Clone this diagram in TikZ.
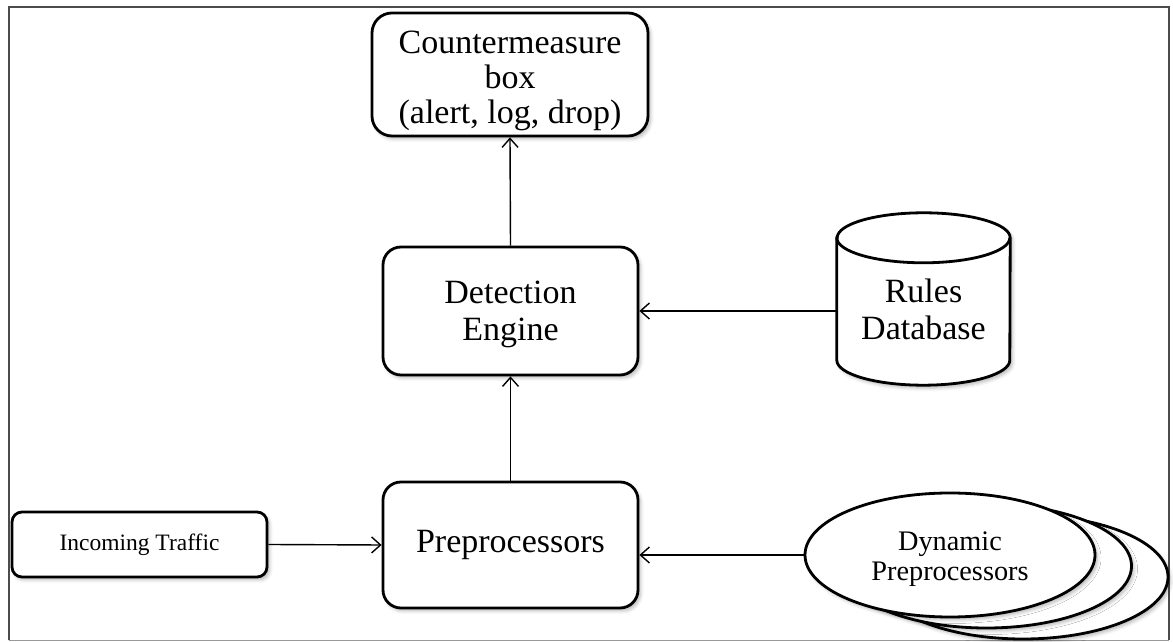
\documentclass[tikz,border=0pt]{standalone}
\usepackage{fontspec}
\setmainfont{Liberation Serif}
\usetikzlibrary{arrows.meta,shapes.geometric,shadows.blur}

\begin{document}
\begin{tikzpicture}[x=1pt,y=1pt,
  softshadow/.style={blur shadow={shadow xshift=2.5pt, shadow yshift=-3pt, shadow opacity=28, shadow blur radius=3.5pt}},
  box/.style={draw=black, line width=2.8pt, fill=white, rounded corners=18pt,
    align=center, inner sep=0pt, softshadow},
  big/.style={font=\fontsize{34}{37}\selectfont},
  outline/.style={draw=black, line width=2.8pt, fill=white},
  flow/.style={line width=1.4pt, draw=black,
    -{Straight Barb[length=9pt,width=16pt,line width=1.4pt]}},
]
\useasboundingbox (0,0) rectangle (1173,642);

% outer frame
\draw[line width=2pt, draw=black!70] (8.5,1.5) -- (8.5,634.5) -- (1168.5,634.5) -- (1168.5,1.5);
\draw[line width=1.5pt, draw=black!40] (8.5,1.5) -- (1168.5,1.5);

% main processing boxes
\node[box, minimum width=276pt, minimum height=123pt, rounded corners=20pt,
  label={[yshift=-6pt, align=center, font=\fontsize{34}{35}\selectfont]center:Countermeasure\\box\\(alert, log, drop)}]
  (cm) at (510,567.5) {};
\node[box, minimum width=255pt, minimum height=128pt,
  label={[yshift=-3pt, align=center, big]center:Detection\\Engine}] (det) at (510.5,331) {};
\node[box, big, minimum width=255pt, minimum height=126pt] (pre) at (510.5,97) {Preprocessors};
\node[box, rounded corners=10pt, font=\fontsize{23.5}{26}\selectfont,
  minimum width=255pt, minimum height=65pt] (inc) at (139.5,97.5) {Incoming Traffic};

% rules database cylinder
\node[minimum width=173pt, minimum height=172pt, inner sep=0pt] (rules) at (923.5,343) {};
\draw[outline, softshadow]
  ([yshift=-25pt]rules.north west) -- ([yshift=25pt]rules.south west)
  arc[start angle=180, end angle=360, x radius=86.5pt, y radius=25pt]
  -- ([yshift=-25pt]rules.north east)
  arc[start angle=0, end angle=180, x radius=86.5pt, y radius=25pt] -- cycle;
\draw[draw=black, line width=2.8pt] ([yshift=-25pt]rules.north west)
  arc[start angle=180, end angle=360, x radius=86.5pt, y radius=25pt];
\node[big, align=center] (rulestext) at ([yshift=-10pt]rules.center) {Rules\\Database};

% stacked dynamic preprocessors
\draw[outline, softshadow] (1023,65) ellipse [x radius=145pt, y radius=62pt];
\draw[outline, softshadow] (986.5,76) ellipse [x radius=145pt, y radius=62pt];
\node[ellipse, outline, softshadow, inner sep=0pt, minimum width=290pt, minimum height=124pt,
  label={[yshift=-4pt, align=center, font=\fontsize{28.3}{30}\selectfont]center:Dynamic\\Preprocessors}]
  (dyn) at (950,87) {};

% data flow
\draw[flow] (inc.east) -- (pre.west);
\draw[flow] (dyn.west) -- (dyn.west -| pre.east);
\draw[flow] (pre.north) -- (det.south);
\draw[flow] (rules.west |- det.east) -- (det.east);
\draw[flow] (det.north) -- (cm.south);
\end{tikzpicture}
\end{document}
